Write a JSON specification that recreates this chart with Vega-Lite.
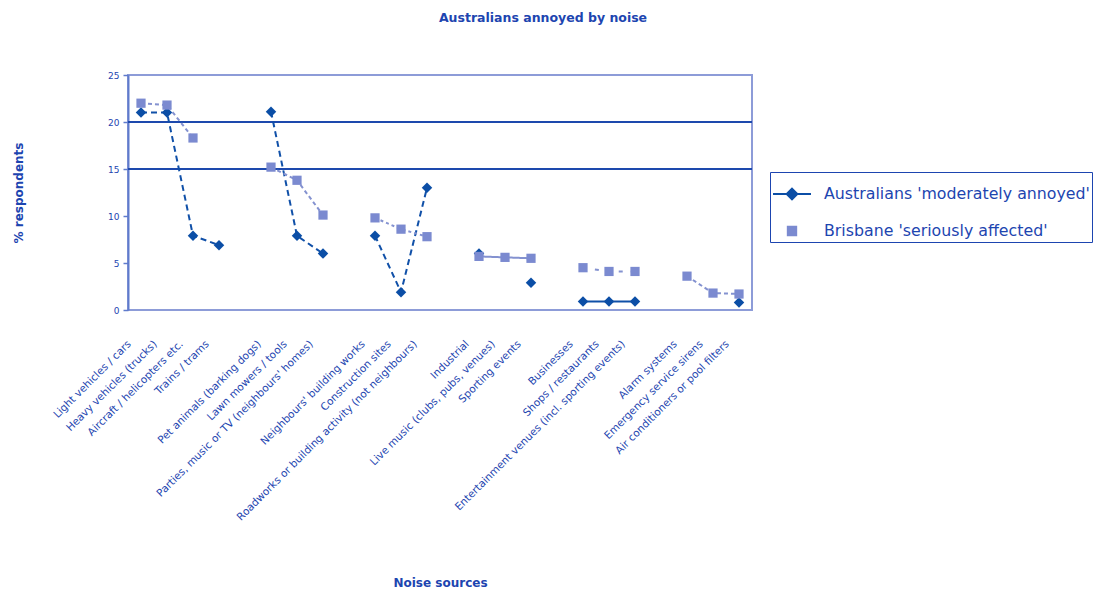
{
  "$schema": "https://vega.github.io/schema/vega-lite/v6.json",
  "width": 624,
  "height": 235,
  "autosize": {"type": "none"},
  "padding": {"left": 128, "top": 75, "right": 344, "bottom": 280},
  "background": "white",
  "title": {"text": "Australians annoyed by noise", "font": "DejaVu Sans", "fontSize": 12.5, "fontWeight": "bold", "color": "#1d45b0", "anchor": "middle", "dx": 103, "offset": 47},
  "datasets": {
    "noise": [
      {"source": "Light vehicles / cars", "group": "Traffic", "aus": 21.0, "bris": 22.0},
      {"source": "Heavy vehicles (trucks)", "group": "Traffic", "aus": 21.0, "bris": 21.8},
      {"source": "Aircraft / helicopters etc.", "group": "Traffic", "aus": 7.9, "bris": 18.3},
      {"source": "Trains / trams", "group": "Traffic", "aus": 6.9, "bris": null},
      {"source": "Pet animals (barking dogs)", "group": "Neighbours", "aus": 21.1, "bris": 15.2},
      {"source": "Lawn mowers / tools", "group": "Neighbours", "aus": 7.9, "bris": 13.8},
      {"source": "Parties, music or TV (neighbours' homes)", "group": "Neighbours", "aus": 6.0, "bris": 10.1},
      {"source": "Neighbours' building works", "group": "Building", "aus": 7.9, "bris": 9.8},
      {"source": "Construction sites", "group": "Building", "aus": 1.9, "bris": 8.6},
      {"source": "Roadworks or building activity (not neighbours)", "group": "Building", "aus": 13.0, "bris": 7.8},
      {"source": "Industrial", "group": "Industry", "aus": 6.0, "bris": 5.7},
      {"source": "Live music (clubs, pubs, venues)", "group": "Industry", "aus": null, "bris": 5.6},
      {"source": "Sporting events", "group": "Industry", "aus": 2.9, "bris": 5.5},
      {"source": "Businesses", "group": "Commercial", "aus": 0.9, "bris": 4.5},
      {"source": "Shops / restaurants", "group": "Commercial", "aus": 0.9, "bris": 4.1},
      {"source": "Entertainment venues (incl. sporting events)", "group": "Commercial", "aus": 0.9, "bris": 4.1},
      {"source": "Alarm systems", "group": "Other", "aus": null, "bris": 3.6},
      {"source": "Emergency service sirens", "group": "Other", "aus": null, "bris": 1.8},
      {"source": "Air conditioners or pool filters", "group": "Other", "aus": 0.8, "bris": 1.7}
    ],
    "refs": [{"level": 15}, {"level": 20}],
    "series": [{"series": "Australians 'moderately annoyed'"}, {"series": "Brisbane 'seriously affected'"}]
  },
  "config": {
    "font": "DejaVu Sans",
    "view": {"fill": "#eef1f8", "stroke": "#8d9cd8", "strokeWidth": 2},
    "axisY": {"domainColor": "#5f7bcc", "domainWidth": 2, "tickColor": "#5f7bcc", "tickSize": 5, "tickWidth": 1.5, "labelColor": "#1d45b0", "labelFontSize": 9, "labelPadding": 4, "grid": false, "tickCount": 6, "titleColor": "#1d45b0", "titleFontSize": 12, "titleFontWeight": "bold", "titleX": -110, "titleAngle": -90, "titleBaseline": "middle"},
    "axisX": {"domain": false, "ticks": false, "labelAngle": -45, "labelAlign": "right", "labelBaseline": "middle", "labelFontSize": 10.5, "labelColor": "#1d45b0", "labelPadding": 32, "labelOffset": -12, "labelLimit": 400, "labelOverlap": false, "titleColor": "#1d45b0", "titleFontSize": 12, "titleFontWeight": "bold", "titleY": 272, "titleBaseline": "middle"}
  },
  "layer": [
    {
      "data": {"name": "refs"},
      "mark": {"type": "rule", "color": "#1d49ad", "strokeWidth": 2},
      "encoding": {"y": {"field": "level", "type": "quantitative", "title": "% respondents", "scale": {"domain": [0, 25]}}}
    },
    {
      "data": {"name": "noise"},
      "mark": {"type": "line", "color": "#1050a8", "strokeWidth": 2, "invalid": "break-paths-filter-domains"},
      "encoding": {
        "x": {"field": "source", "type": "nominal", "sort": null, "title": "Noise sources", "scale": {"type": "point", "padding": 0.5, "domain": ["Light vehicles / cars", "Heavy vehicles (trucks)", "Aircraft / helicopters etc.", "Trains / trams", " ", "Pet animals (barking dogs)", "Lawn mowers / tools", "Parties, music or TV (neighbours' homes)", "  ", "Neighbours' building works", "Construction sites", "Roadworks or building activity (not neighbours)", "   ", "Industrial", "Live music (clubs, pubs, venues)", "Sporting events", "    ", "Businesses", "Shops / restaurants", "Entertainment venues (incl. sporting events)", "     ", "Alarm systems", "Emergency service sirens", "Air conditioners or pool filters"]}},
        "y": {"field": "aus", "type": "quantitative", "title": "% respondents", "scale": {"domain": [0, 25]}},
        "strokeDash": {"field": "group", "type": "nominal", "legend": null, "scale": {"domain": ["Traffic", "Neighbours", "Building", "Industry", "Commercial", "Other"], "range": [[6, 4], [6, 4], [6, 4], [1, 0], [1, 0], [1, 0]]}}
      }
    },
    {
      "data": {"name": "noise"},
      "mark": {"type": "point", "shape": "diamond", "filled": true, "size": 110, "color": "#0b4ea6", "opacity": 1},
      "encoding": {
        "x": {"field": "source", "type": "nominal", "sort": null, "title": "Noise sources", "scale": {"type": "point", "padding": 0.5, "domain": ["Light vehicles / cars", "Heavy vehicles (trucks)", "Aircraft / helicopters etc.", "Trains / trams", " ", "Pet animals (barking dogs)", "Lawn mowers / tools", "Parties, music or TV (neighbours' homes)", "  ", "Neighbours' building works", "Construction sites", "Roadworks or building activity (not neighbours)", "   ", "Industrial", "Live music (clubs, pubs, venues)", "Sporting events", "    ", "Businesses", "Shops / restaurants", "Entertainment venues (incl. sporting events)", "     ", "Alarm systems", "Emergency service sirens", "Air conditioners or pool filters"]}},
        "y": {"field": "aus", "type": "quantitative", "title": "% respondents", "scale": {"domain": [0, 25]}}
      }
    },
    {
      "data": {"name": "noise"},
      "mark": {"type": "line", "color": "#8492d0", "strokeWidth": 2, "invalid": "break-paths-filter-domains"},
      "encoding": {
        "x": {"field": "source", "type": "nominal", "sort": null, "title": "Noise sources", "scale": {"type": "point", "padding": 0.5, "domain": ["Light vehicles / cars", "Heavy vehicles (trucks)", "Aircraft / helicopters etc.", "Trains / trams", " ", "Pet animals (barking dogs)", "Lawn mowers / tools", "Parties, music or TV (neighbours' homes)", "  ", "Neighbours' building works", "Construction sites", "Roadworks or building activity (not neighbours)", "   ", "Industrial", "Live music (clubs, pubs, venues)", "Sporting events", "    ", "Businesses", "Shops / restaurants", "Entertainment venues (incl. sporting events)", "     ", "Alarm systems", "Emergency service sirens", "Air conditioners or pool filters"]}},
        "y": {"field": "bris", "type": "quantitative", "title": "% respondents", "scale": {"domain": [0, 25]}},
        "strokeDash": {"field": "group", "type": "nominal", "legend": null, "scale": {"domain": ["Traffic", "Neighbours", "Building", "Industry", "Commercial", "Other"], "range": [[4, 3], [4, 3], [3, 3], [1, 0], [4, 8], [4, 3]]}}
      }
    },
    {
      "data": {"name": "noise"},
      "mark": {"type": "point", "shape": "square", "filled": true, "size": 85, "color": "#7b8ad0", "opacity": 1},
      "encoding": {
        "x": {"field": "source", "type": "nominal", "sort": null, "title": "Noise sources", "scale": {"type": "point", "padding": 0.5, "domain": ["Light vehicles / cars", "Heavy vehicles (trucks)", "Aircraft / helicopters etc.", "Trains / trams", " ", "Pet animals (barking dogs)", "Lawn mowers / tools", "Parties, music or TV (neighbours' homes)", "  ", "Neighbours' building works", "Construction sites", "Roadworks or building activity (not neighbours)", "   ", "Industrial", "Live music (clubs, pubs, venues)", "Sporting events", "    ", "Businesses", "Shops / restaurants", "Entertainment venues (incl. sporting events)", "     ", "Alarm systems", "Emergency service sirens", "Air conditioners or pool filters"]}},
        "y": {"field": "bris", "type": "quantitative", "title": "% respondents", "scale": {"domain": [0, 25]}}
      }
    },
    {
      "data": {"name": "series"},
      "transform": [{"filter": "false"}],
      "mark": {"type": "point", "filled": true, "opacity": 1},
      "encoding": {
        "shape": {"field": "series", "type": "nominal", "scale": {"domain": ["Australians 'moderately annoyed'", "Brisbane 'seriously affected'"], "range": ["M-1,0H1M0,-0.28L0.28,0L0,0.28L-0.28,0Z", "M-0.22,-0.22H0.22V0.22H-0.22Z"]}, "legend": {"title": null, "orient": "none", "legendX": 642, "legendY": 97, "direction": "vertical", "symbolSize": 1444, "symbolStrokeWidth": 2, "labelFontSize": 15.8, "labelColor": "#1d45b0", "labelFont": "DejaVu Sans", "labelOffset": 12, "labelLimit": 500, "rowPadding": 7, "padding": 2, "strokeColor": "#1d45b0"}},
        "fill": {"field": "series", "type": "nominal", "scale": {"domain": ["Australians 'moderately annoyed'", "Brisbane 'seriously affected'"], "range": ["#0b4ea6", "#7b8ad0"]}, "legend": {"title": null, "orient": "none", "legendX": 642, "legendY": 97, "direction": "vertical", "symbolSize": 1444, "symbolStrokeWidth": 2, "labelFontSize": 15.8, "labelColor": "#1d45b0", "labelFont": "DejaVu Sans", "labelOffset": 12, "labelLimit": 500, "rowPadding": 7, "padding": 2, "strokeColor": "#1d45b0"}},
        "stroke": {"field": "series", "type": "nominal", "scale": {"domain": ["Australians 'moderately annoyed'", "Brisbane 'seriously affected'"], "range": ["#0b4ea6", "#7b8ad0"]}, "legend": {"title": null, "orient": "none", "legendX": 642, "legendY": 97, "direction": "vertical", "symbolSize": 1444, "symbolStrokeWidth": 2, "labelFontSize": 15.8, "labelColor": "#1d45b0", "labelFont": "DejaVu Sans", "labelOffset": 12, "labelLimit": 500, "rowPadding": 7, "padding": 2, "strokeColor": "#1d45b0"}}
      }
    }
  ],
  "resolve": {"scale": {"strokeDash": "independent"}}
}
